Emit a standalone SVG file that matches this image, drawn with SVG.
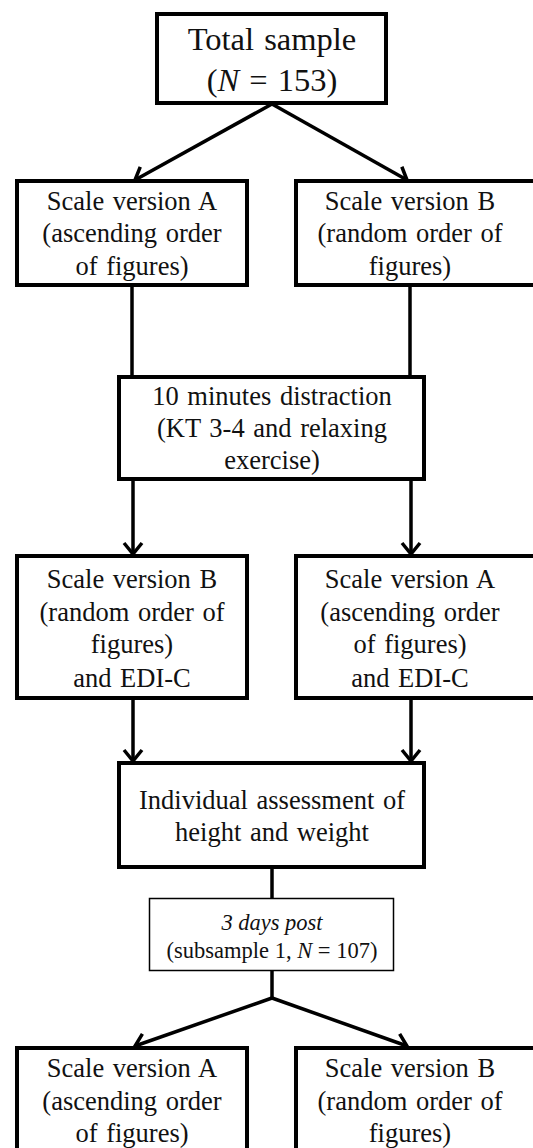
<svg xmlns="http://www.w3.org/2000/svg" width="533" height="1148" viewBox="0 0 533 1148">
<defs>
<style>
.box{fill:#fff;stroke:#000;stroke-width:4}
.thin{fill:#fff;stroke:#000;stroke-width:1.5}
.t{font-family:"Liberation Serif","Times New Roman",serif;font-size:26.5px;fill:#111;text-anchor:middle;word-spacing:2px}
.big{font-size:32.5px}
.sm{font-size:22.5px;word-spacing:0}
.c{fill:none;stroke:#000;stroke-width:3.5}
</style>
<marker id="ah" markerUnits="userSpaceOnUse" viewBox="-14 -11 16 22" markerWidth="16" markerHeight="22" refX="0" refY="0" orient="auto">
<path d="M-11,-9 L0,0 L-11,9" fill="none" stroke="#000" stroke-width="3.5"/>
</marker>
</defs>
<rect width="533" height="1148" fill="#fff"/>
<g id="connectors">
<line class="c" x1="272" y1="104" x2="135" y2="180" marker-end="url(#ah)"/>
<line class="c" x1="272" y1="104" x2="407" y2="180" marker-end="url(#ah)"/>
<line class="c" x1="132" y1="285" x2="132" y2="376"/>
<line class="c" x1="410" y1="285" x2="410" y2="376"/>
<line class="c" x1="133" y1="479" x2="133" y2="554" marker-end="url(#ah)"/>
<line class="c" x1="411" y1="479" x2="411" y2="554" marker-end="url(#ah)"/>
<line class="c" x1="133" y1="698" x2="133" y2="761" marker-end="url(#ah)"/>
<line class="c" x1="411" y1="698" x2="411" y2="761" marker-end="url(#ah)"/>
<line class="c" x1="272" y1="867" x2="272" y2="898"/>
<line class="c" x1="272" y1="971" x2="272" y2="998"/>
<line class="c" x1="272" y1="998" x2="135" y2="1046" marker-end="url(#ah)"/>
<line class="c" x1="272" y1="998" x2="407" y2="1046" marker-end="url(#ah)"/>
</g>
<g id="total">
<rect class="box" x="157" y="14" width="229" height="89"/>
<text class="t big" x="272" y="50">Total sample</text>
<text class="t big" x="272" y="91">(<tspan font-style="italic">N</tspan> = 153)</text>
</g>
<g id="a1">
<rect class="box" x="17" y="181" width="230" height="104"/>
<text class="t" x="132" y="210">Scale version A</text>
<text class="t" x="132" y="242">(ascending order</text>
<text class="t" x="132" y="275">of figures)</text>
</g>
<g id="b1">
<rect class="box" x="296" y="181" width="260" height="104"/>
<text class="t" x="410" y="210">Scale version B</text>
<text class="t" x="410" y="242">(random order of</text>
<text class="t" x="410" y="275">figures)</text>
</g>
<g id="distraction">
<rect class="box" x="119" y="377" width="305" height="102"/>
<text class="t" x="272" y="405">10 minutes distraction</text>
<text class="t" x="272" y="437">(KT 3-4 and relaxing</text>
<text class="t" x="272" y="469">exercise)</text>
</g>
<g id="b2">
<rect class="box" x="17" y="556" width="230" height="142"/>
<text class="t" x="132" y="588">Scale version B</text>
<text class="t" x="132" y="621">(random order of</text>
<text class="t" x="132" y="653">figures)</text>
<text class="t" x="132" y="687">and EDI-C</text>
</g>
<g id="a2">
<rect class="box" x="296" y="556" width="260" height="142"/>
<text class="t" x="410" y="588">Scale version A</text>
<text class="t" x="410" y="621">(ascending order</text>
<text class="t" x="410" y="653">of figures)</text>
<text class="t" x="410" y="687">and EDI-C</text>
</g>
<g id="assessment">
<rect class="box" x="119" y="763" width="305" height="104"/>
<text class="t" x="272" y="809">Individual assessment of</text>
<text class="t" x="272" y="841">height and weight</text>
</g>
<g id="post">
<rect class="thin" x="149.5" y="898.5" width="244" height="72"/>
<text class="t sm" x="272" y="930" font-style="italic">3 days post</text>
<text class="t sm" x="272" y="958">(subsample  1, <tspan font-style="italic">N</tspan> = 107)</text>
</g>
<g id="a3">
<rect class="box" x="17" y="1048" width="230" height="120"/>
<text class="t" x="132" y="1077">Scale version A</text>
<text class="t" x="132" y="1110">(ascending order</text>
<text class="t" x="132" y="1142">of figures)</text>
</g>
<g id="b3">
<rect class="box" x="296" y="1048" width="260" height="120"/>
<text class="t" x="410" y="1077">Scale version B</text>
<text class="t" x="410" y="1110">(random order of</text>
<text class="t" x="410" y="1142">figures)</text>
</g>
</svg>
